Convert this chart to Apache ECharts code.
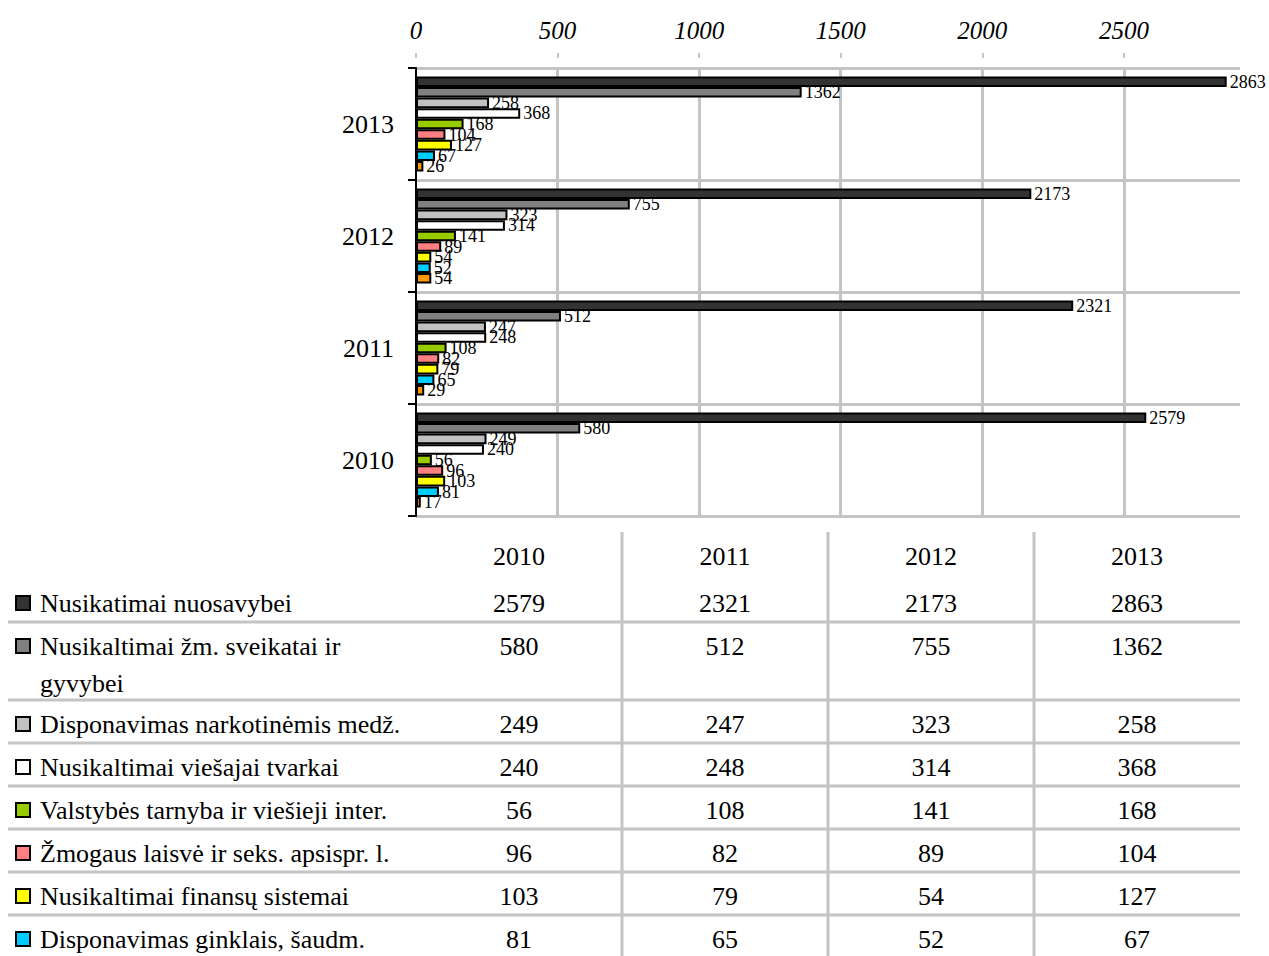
<!DOCTYPE html>
<html>
<head>
<meta charset="utf-8">
<script src="https://cdn.jsdelivr.net/npm/echarts@6/dist/echarts.min.js"></script>
<style>
html,body{margin:0;padding:0;background:#fff;}
#chart{width:1269px;height:956px;}
</style>
</head>
<body>
<div id="chart"></div>
<script>
// ---- data ----
var years = ['2010', '2011', '2012', '2013'];
var seriesNames = [
  'Nusikatimai nuosavybei',
  'Nusikaltimai žm. sveikatai ir\ngyvybei',
  'Disponavimas narkotinėmis medž.',
  'Nusikaltimai viešajai tvarkai',
  'Valstybės tarnyba ir viešieji inter.',
  'Žmogaus laisvė ir seks. apsispr. l.',
  'Nusikaltimai finansų sistemai',
  'Disponavimas ginklais, šaudm.',
  'Kiti'
];
var nuosavybei   = [2579, 2321, 2173, 2863];
var sveikatai    = [580, 512, 755, 1362];
var narkotines   = [249, 247, 323, 258];
var tvarkai      = [240, 248, 314, 368];
var tarnyba      = [56, 108, 141, 168];
var laisve       = [96, 82, 89, 104];
var finansu      = [103, 79, 54, 127];
var ginklais     = [81, 65, 52, 67];
var kiti         = [17, 29, 54, 26];
var seriesValues = [nuosavybei, sveikatai, narkotines, tvarkai, tarnyba, laisve, finansu, ginklais, kiti];
var xTicks = [0, 500, 1000, 1500, 2000, 2500];
var colors = ['#333333', '#808080', '#c0c0c0', '#ffffff', '#99cc00', '#ff8080', '#ffff00', '#00ccff', '#ff9900'];
var tableRows = 8; // rows visible in the table

// ---- layout ----
var FONT = '"Liberation Serif", "Times New Roman", serif';
var gridLeft = 416, gridRight = 1240, gridTop = 68, gridBottom = 516;
var GRAY = '#c4c4c4';
var TFS = 26;

var chart = echarts.init(document.getElementById('chart'), null, {renderer: 'svg'});

var series = seriesValues.map(function (vals, i) {
  return {
    type: 'bar',
    name: seriesNames[i],
    data: vals,
    barGap: '0%',
    barCategoryGap: '15%',
    itemStyle: {color: colors[i], borderColor: '#000', borderWidth: 2},
    label: {
      show: true, position: 'right', distance: 3,
      fontFamily: FONT, fontSize: 18, color: '#000'
    },
    emphasis: {disabled: true},
    animation: false
  };
});

// ---- table graphics ----
var graphics = [];
var colW = (gridRight - gridLeft) / years.length;
years.forEach(function (y, c) {
  graphics.push({type: 'text', x: gridLeft + (c + 0.5) * colW, y: 556,
    style: {text: y, font: TFS + 'px ' + FONT, fill: '#000', textAlign: 'center', textVerticalAlign: 'middle'}});
});
var rowTop = 579;
var lineYs = [];
for (var r = 0; r < tableRows; r++) {
  var lines = seriesNames[r].split('\n');
  var h = 43 + 35 * (lines.length - 1);
  var cy = rowTop + 24;
  graphics.push({type: 'rect', shape: {x: 16, y: cy - 7, width: 14, height: 14},
    style: {fill: colors[r], stroke: '#000', lineWidth: 2}});
  lines.forEach(function (ln, k) {
    graphics.push({type: 'text', x: 40, y: cy + k * 37,
      style: {text: ln, font: TFS + 'px ' + FONT, fill: '#000', textAlign: 'left', textVerticalAlign: 'middle'}});
  });
  for (var c = 0; c < years.length; c++) {
    graphics.push({type: 'text', x: gridLeft + (c + 0.5) * colW, y: cy,
      style: {text: String(seriesValues[r][c]), font: TFS + 'px ' + FONT, fill: '#000', textAlign: 'center', textVerticalAlign: 'middle'}});
  }
  rowTop += h;
  lineYs.push(rowTop);
}
lineYs.forEach(function (ly) {
  graphics.push({type: 'line', shape: {x1: 8, y1: ly, x2: gridRight, y2: ly},
    style: {stroke: GRAY, lineWidth: 3}});
});
for (var c2 = 1; c2 < years.length; c2++) {
  var lx = gridLeft + c2 * colW;
  graphics.push({type: 'line', shape: {x1: lx, y1: 532, x2: lx, y2: 960},
    style: {stroke: GRAY, lineWidth: 3}});
}

chart.setOption({
  animation: false,
  backgroundColor: '#fff',
  grid: {left: gridLeft, right: 1269 - gridRight, top: gridTop, height: gridBottom - gridTop, containLabel: false},
  xAxis: {
    type: 'value', position: 'top', min: xTicks[0], max: 2910, interval: xTicks[1] - xTicks[0],
    offset: 10,
    axisLine: {show: false},
    axisTick: {show: true, length: 5, lineStyle: {color: GRAY, width: 2}},
    axisLabel: {fontFamily: FONT, fontStyle: 'italic', fontSize: 25, color: '#000', margin: 15, showMaxLabel: false,
      formatter: function (v) { return xTicks.indexOf(v) >= 0 ? String(v) : ''; }},
    splitLine: {show: true, showMinLine: false, showMaxLine: false, lineStyle: {color: GRAY, width: 3}}
  },
  yAxis: {
    type: 'category', data: years,
    axisLine: {show: true, lineStyle: {color: '#000', width: 2}},
    axisTick: {show: true, length: 8, lineStyle: {color: '#000', width: 2}},
    axisLabel: {fontFamily: FONT, fontSize: TFS, color: '#000', margin: 22},
    splitLine: {show: true, lineStyle: {color: GRAY, width: 3}}
  },
  series: series,
  graphic: graphics
});
</script>
</body>
</html>
